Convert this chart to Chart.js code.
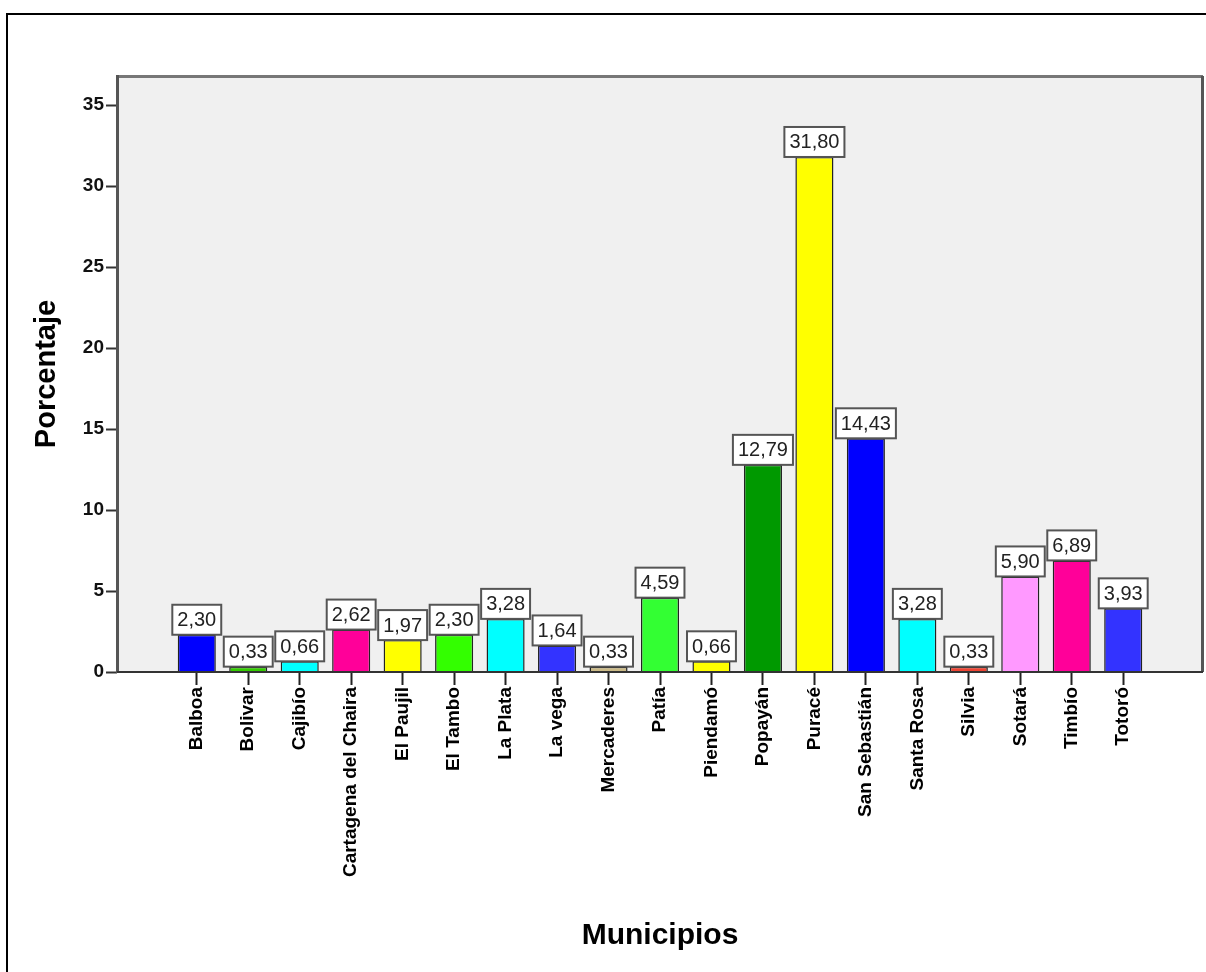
<!DOCTYPE html>
<html>
<head>
<meta charset="utf-8">
<script src="https://cdn.jsdelivr.net/npm/chart.js@4/dist/chart.umd.min.js"></script>
<style>
  html, body { margin: 0; padding: 0; background: #ffffff; }
  #wrap { width: 1206px; height: 972px; }
</style>
</head>
<body>
<div id="wrap"><canvas id="chart" width="1206" height="972"></canvas></div>
<script>
// Porcentaje por municipio
const municipios = [
  'Balboa', 'Bolivar', 'Cajibío', 'Cartagena del Chaira', 'El Paujil', 'El Tambo',
  'La Plata', 'La vega', 'Mercaderes', 'Patía', 'Piendamó', 'Popayán', 'Puracé',
  'San Sebastián', 'Santa Rosa', 'Silvia', 'Sotará', 'Timbío', 'Totoró'
];
const porcentajes = [
  2.30, 0.33, 0.66, 2.62, 1.97, 2.30, 3.28, 1.64, 0.33, 4.59,
  0.66, 12.79, 31.80, 14.43, 3.28, 0.33, 5.90, 6.89, 3.93
];
const colores = [
  '#0000ff', '#33cc00', '#00ffff', '#ff0099', '#ffff00', '#33ff00',
  '#00ffff', '#3333ff', '#ccbb88', '#33ff33', '#ffff00', '#009900',
  '#ffff00', '#0000ff', '#00ffff', '#ee4433', '#ff99ff', '#ff0099', '#3333ff'
];
const yTicks = [0, 5, 10, 15, 20, 25, 30, 35];

const FONT = "'Liberation Sans', Arial, Helvetica, sans-serif";

const puntos = porcentajes.map((v, i) => ({ x: i, y: v }));

// Background, outer frame and plot frame
const framePlugin = {
  id: 'frame',
  beforeDraw(chart) {
    const { ctx, chartArea: a } = chart;
    ctx.save();
    ctx.strokeStyle = '#000000';
    ctx.lineWidth = 2;
    ctx.strokeRect(7, 14, 1220, 990);
    ctx.fillStyle = '#f0f0f0';
    ctx.fillRect(a.left, a.top, a.right - a.left, a.bottom - a.top);
    ctx.restore();
  },
  afterDatasetsDraw(chart) {
    const { ctx, chartArea: a } = chart;
    ctx.save();
    ctx.lineWidth = 3;
    ctx.strokeStyle = '#777777';
    ctx.beginPath();
    ctx.moveTo(a.left, a.top + 0.5);
    ctx.lineTo(a.right, a.top + 0.5);
    ctx.stroke();
    ctx.strokeStyle = '#555555';
    ctx.beginPath();
    ctx.moveTo(a.right - 0.5, a.top);
    ctx.lineTo(a.right - 0.5, a.bottom);
    ctx.stroke();
    ctx.beginPath();
    ctx.moveTo(a.left + 0.5, a.top - 1);
    ctx.lineTo(a.left + 0.5, a.bottom + 1);
    ctx.stroke();
    ctx.lineWidth = 2;
    ctx.strokeStyle = '#333333';
    ctx.beginPath();
    ctx.moveTo(a.left, a.bottom);
    ctx.lineTo(a.right, a.bottom);
    ctx.stroke();
    ctx.restore();
  }
};

// Boxed value labels on top of each bar
const valueBoxPlugin = {
  id: 'valueBoxes',
  afterDatasetsDraw(chart) {
    const { ctx } = chart;
    const meta = chart.getDatasetMeta(0);
    ctx.save();
    ctx.font = '20px ' + FONT;
    ctx.textAlign = 'center';
    ctx.textBaseline = 'middle';
    meta.data.forEach((bar, i) => {
      const txt = porcentajes[i].toFixed(2).replace('.', ',');
      const w = ctx.measureText(txt).width + 10;
      const h = 30;
      const x = bar.x - w / 2;
      const y = bar.y - h;
      ctx.fillStyle = '#ffffff';
      ctx.fillRect(x, y, w, h);
      ctx.lineWidth = 2;
      ctx.strokeStyle = '#555555';
      ctx.strokeRect(x, y, w, h);
      ctx.fillStyle = '#222222';
      ctx.fillText(txt, bar.x, y + h / 2 + 1);
    });
    ctx.restore();
  }
};

new Chart(document.getElementById('chart'), {
  type: 'bar',
  data: {
    datasets: [{
      data: puntos,
      backgroundColor: colores,
      borderColor: '#222222',
      borderWidth: 1.5,
      barPercentage: 0.74,
      categoryPercentage: 1.0
    }]
  },
  options: {
    responsive: false,
    animation: false,
    devicePixelRatio: 1,
    layout: { padding: { left: 0, top: 76, right: 3, bottom: 0 } },
    plugins: {
      legend: { display: false },
      tooltip: { enabled: false }
    },
    scales: {
      x: {
        type: 'linear',
        min: -1.55,
        max: 19.55,
        offset: false,
        afterBuildTicks(scale) {
          scale.ticks = municipios.map((_, i) => ({ value: i }));
        },
        afterFit(scale) { scale.height = 300; },
        border: { display: false },
        grid: {
          offset: false,
          drawOnChartArea: false,
          drawTicks: true,
          tickLength: 13,
          tickWidth: 2,
          color: '#222222'
        },
        ticks: {
          autoSkip: false,
          minRotation: 90,
          maxRotation: 90,
          padding: 2,
          color: '#000000',
          font: { family: FONT, size: 19, weight: 'bold' },
          callback(value) { return municipios[value] ?? ''; }
        },
        title: {
          display: true,
          text: 'Municipios',
          color: '#000000',
          font: { family: FONT, size: 30, weight: 'bold' },
          padding: { top: 0, bottom: 18 }
        }
      },
      y: {
        min: 0,
        max: 36.8,
        afterBuildTicks(scale) {
          scale.ticks = yTicks.map(v => ({ value: v }));
        },
        afterFit(scale) { scale.width = 117; },
        border: { display: false },
        grid: {
          drawOnChartArea: false,
          drawTicks: true,
          tickLength: 11,
          tickWidth: 2,
          color: '#333333'
        },
        ticks: {
          padding: 2,
          color: '#111111',
          font: { family: FONT, size: 19, weight: 'bold' }
        },
        title: {
          display: true,
          text: 'Porcentaje',
          color: '#000000',
          font: { family: FONT, size: 29, weight: 'bold' },
          padding: { top: 30, bottom: 0 }
        }
      }
    }
  },
  plugins: [framePlugin, valueBoxPlugin]
});
</script>
</body>
</html>
